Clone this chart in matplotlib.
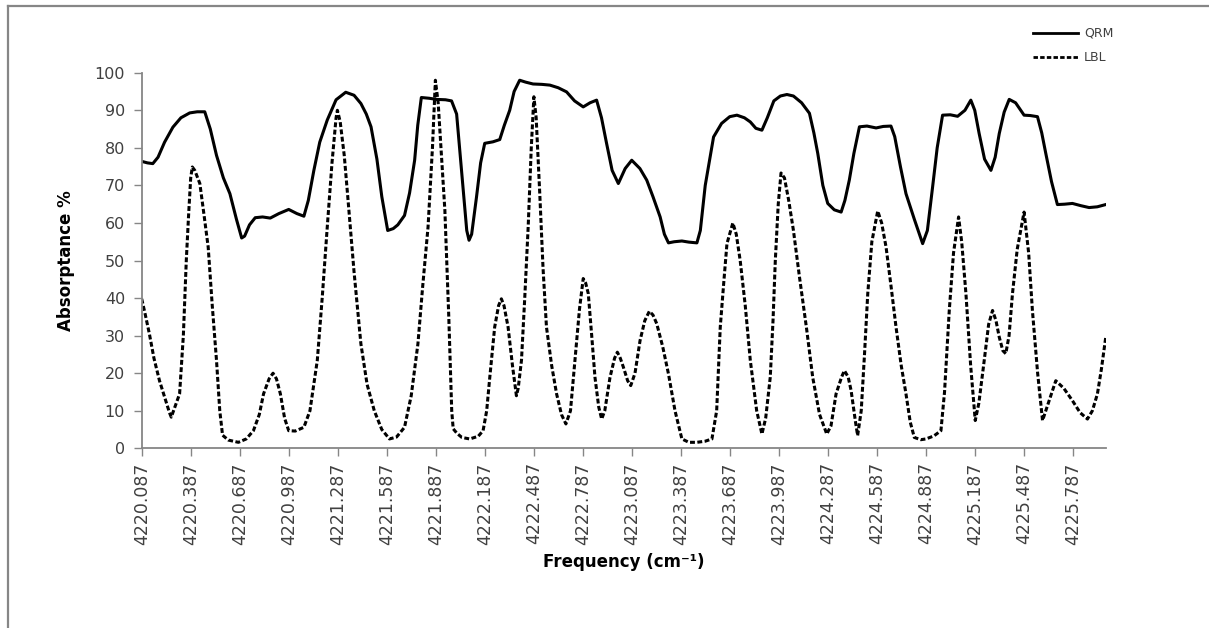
"""Absorptance of QRM vs LBL across 4220-4226 cm-1, Excel-style line chart."""

import matplotlib
matplotlib.use("Agg")
import matplotlib.pyplot as plt
from matplotlib.lines import Line2D

# --- data (frequency in cm-1, absorptance in %) ---
qrm_freq = [
    4220.087, 4220.122, 4220.155, 4220.187, 4220.227, 4220.278, 4220.327,
    4220.381, 4220.427, 4220.473, 4220.507, 4220.545, 4220.587, 4220.627,
    4220.667, 4220.699, 4220.717, 4220.747, 4220.782, 4220.827, 4220.874,
    4220.927, 4220.987, 4221.037, 4221.080, 4221.107, 4221.141, 4221.177,
    4221.223, 4221.277, 4221.336, 4221.387, 4221.429, 4221.462, 4221.491,
    4221.527, 4221.557, 4221.593, 4221.627, 4221.655, 4221.696, 4221.727,
    4221.758, 4221.777, 4221.799, 4221.847, 4221.891, 4221.947, 4221.984,
    4222.015, 4222.047, 4222.077, 4222.091, 4222.107, 4222.137, 4222.162,
    4222.187, 4222.237, 4222.279, 4222.307, 4222.340, 4222.367, 4222.401,
    4222.437, 4222.483, 4222.537, 4222.586, 4222.637, 4222.688, 4222.737,
    4222.790, 4222.832, 4222.872, 4222.902, 4222.933, 4222.967, 4223.005,
    4223.047, 4223.087, 4223.137, 4223.179, 4223.217, 4223.261, 4223.287,
    4223.312, 4223.347, 4223.394, 4223.437, 4223.486, 4223.507, 4223.537,
    4223.588, 4223.637, 4223.687, 4223.731, 4223.777, 4223.813, 4223.847,
    4223.884, 4223.917, 4223.957, 4223.997, 4224.037, 4224.077, 4224.127,
    4224.175, 4224.202, 4224.226, 4224.257, 4224.287, 4224.327, 4224.369,
    4224.392, 4224.419, 4224.447, 4224.481, 4224.527, 4224.583, 4224.627,
    4224.674, 4224.697, 4224.732, 4224.766, 4224.817, 4224.868, 4224.897,
    4224.929, 4224.957, 4224.990, 4225.037, 4225.082, 4225.127, 4225.163,
    4225.187, 4225.214, 4225.247, 4225.286, 4225.312, 4225.337, 4225.367,
    4225.398, 4225.437, 4225.489, 4225.527, 4225.571, 4225.597, 4225.622,
    4225.657, 4225.693, 4225.737, 4225.785, 4225.837, 4225.887, 4225.937,
    4225.989,
]
qrm_vals = [
    76.4, 76.0, 75.8, 77.5, 81.5, 85.5, 88.0, 89.3, 89.6, 89.6,
    85.0, 78.0, 72.0, 67.8, 61.0, 56.0, 56.5, 59.5, 61.4, 61.6,
    61.3, 62.5, 63.6, 62.5, 61.8, 66.0, 74.0, 81.5, 87.4, 92.8,
    94.8, 94.0, 91.8, 89.0, 85.6, 77.0, 67.0, 58.0, 58.5, 59.5,
    62.0, 68.0, 76.7, 86.0, 93.4, 93.2, 92.9, 92.8, 92.5, 89.0,
    73.0, 58.0, 55.4, 57.0, 67.0, 76.0, 81.2, 81.6, 82.2, 86.0,
    90.0, 95.0, 98.0, 97.5, 97.0, 96.9, 96.7, 96.0, 94.9, 92.5,
    90.9, 92.0, 92.7, 88.0, 81.2, 74.0, 70.5, 74.5, 76.7, 74.5,
    71.4, 67.0, 61.6, 57.0, 54.7, 55.0, 55.2, 54.9, 54.7, 58.0,
    70.0, 82.9, 86.5, 88.3, 88.7, 88.0, 86.9, 85.2, 84.7, 88.0,
    92.5, 93.8, 94.2, 93.8, 92.0, 89.2, 84.0, 78.5, 70.0, 65.2,
    63.5, 62.9, 66.0, 71.4, 78.5, 85.6, 85.8, 85.3, 85.7, 85.8,
    83.0, 75.0, 67.8, 61.0, 54.5, 58.0, 69.6, 80.0, 88.7, 88.8,
    88.4, 90.0, 92.7, 90.0, 83.8, 77.0, 74.0, 77.5, 83.8, 89.5,
    92.9, 92.0, 88.7, 88.6, 88.3, 84.0, 78.5, 71.0, 64.9, 65.0,
    65.2, 64.6, 64.1, 64.3, 64.9,
]

lbl_freq = [
    4220.087, 4220.107, 4220.134, 4220.162, 4220.196, 4220.232, 4220.257,
    4220.268, 4220.282, 4220.319, 4220.342, 4220.360, 4220.374, 4220.387,
    4220.397, 4220.412, 4220.443, 4220.469, 4220.494, 4220.519, 4220.545,
    4220.565, 4220.582, 4220.617, 4220.679, 4220.727, 4220.771, 4220.807,
    4220.833, 4220.867, 4220.891, 4220.912, 4220.936, 4220.962, 4220.987,
    4221.027, 4221.080, 4221.117, 4221.162, 4221.192, 4221.223, 4221.252,
    4221.277, 4221.285, 4221.302, 4221.327, 4221.347, 4221.387, 4221.429,
    4221.467, 4221.511, 4221.557, 4221.604, 4221.647, 4221.696, 4221.737,
    4221.778, 4221.807, 4221.840, 4221.867, 4221.885, 4221.902, 4221.922,
    4221.943, 4221.967, 4221.985, 4221.994, 4222.017, 4222.047, 4222.095,
    4222.147, 4222.177, 4222.199, 4222.218, 4222.248, 4222.272, 4222.289,
    4222.305, 4222.330, 4222.357, 4222.381, 4222.392, 4222.412, 4222.432,
    4222.453, 4222.472, 4222.488, 4222.502, 4222.524, 4222.544, 4222.565,
    4222.597, 4222.627, 4222.657, 4222.684, 4222.712, 4222.739, 4222.767,
    4222.790, 4222.805, 4222.821, 4222.842, 4222.862, 4222.885, 4222.903,
    4222.922, 4222.954, 4222.982, 4222.999, 4223.017, 4223.036, 4223.062,
    4223.081, 4223.107, 4223.138, 4223.167, 4223.195, 4223.217, 4223.240,
    4223.277, 4223.312, 4223.352, 4223.394, 4223.437, 4223.486, 4223.537,
    4223.578, 4223.607, 4223.629, 4223.652, 4223.670, 4223.706, 4223.727,
    4223.751, 4223.782, 4223.813, 4223.852, 4223.884, 4223.907, 4223.935,
    4223.952, 4223.966, 4223.984, 4224.001, 4224.022, 4224.048, 4224.077,
    4224.114, 4224.157, 4224.195, 4224.237, 4224.281, 4224.307, 4224.338,
    4224.372, 4224.389, 4224.412, 4224.430, 4224.457, 4224.470, 4224.492,
    4224.512, 4224.532, 4224.557, 4224.593, 4224.617, 4224.644, 4224.675,
    4224.705, 4224.737, 4224.766, 4224.792, 4224.817, 4224.857, 4224.888,
    4224.937, 4224.980, 4225.002, 4225.031, 4225.057, 4225.088, 4225.107,
    4225.133, 4225.162, 4225.190, 4225.212, 4225.245, 4225.272, 4225.296,
    4225.317, 4225.337, 4225.359, 4225.377, 4225.397, 4225.418, 4225.447,
    4225.489, 4225.517, 4225.540, 4225.572, 4225.602, 4225.637, 4225.683,
    4225.732, 4225.785, 4225.832, 4225.877, 4225.907, 4225.938, 4225.962,
    4225.989,
]
lbl_vals = [
    39.8, 36.0, 30.5, 24.0, 18.0, 13.0, 9.5, 8.3, 10.0, 14.5,
    30.0, 50.0, 62.0, 72.0, 74.9, 74.0, 70.5, 62.0, 53.6, 38.0,
    23.4, 10.0, 3.5, 2.2, 1.6, 2.5, 4.7, 9.0, 14.5, 18.5,
    20.0, 18.5, 14.5, 8.0, 4.7, 4.6, 5.6, 10.0, 23.4, 40.0,
    58.9, 76.0, 88.0, 90.0, 87.0, 78.0, 67.8, 47.0, 27.8, 17.0,
    10.0, 5.0, 2.5, 3.0, 5.6, 14.0, 27.8, 43.0, 58.9, 80.0,
    98.0, 92.0, 78.0, 63.4, 35.0, 10.0, 5.2, 4.0, 2.9, 2.5,
    3.2, 4.7, 10.0, 18.9, 32.3, 38.0, 39.8, 38.0, 32.3, 22.0,
    14.0, 16.0, 23.4, 40.0, 58.9, 80.0, 93.6, 88.0, 67.8, 48.0,
    32.3, 22.0, 14.5, 9.0, 6.5, 10.0, 23.4, 37.0, 45.2, 44.0,
    41.2, 30.0, 18.9, 11.0, 7.8, 10.0, 18.9, 24.0, 25.6, 24.0,
    21.6, 18.0, 16.7, 20.0, 28.7, 34.0, 36.5, 35.5, 33.2, 27.0,
    19.8, 10.0, 2.5, 1.6, 1.6, 1.9, 2.5, 10.0, 32.3, 45.0,
    54.5, 60.0, 57.0, 50.0, 38.0, 23.4, 10.0, 3.8, 8.0, 18.9,
    34.0, 50.0, 65.0, 73.3, 72.0, 66.0, 58.0, 45.6, 32.0, 18.9,
    9.0, 3.8, 6.0, 14.5, 19.0, 20.7, 19.0, 15.4, 7.0, 3.4,
    10.0, 25.0, 41.2, 55.0, 63.2, 60.0, 53.6, 43.0, 32.3, 22.0,
    14.5, 7.0, 2.9, 2.3, 2.5, 3.3, 4.7, 15.0, 36.7, 52.0,
    61.6, 55.0, 41.2, 22.0, 7.4, 12.0, 23.4, 33.0, 36.7, 34.0,
    29.6, 26.0, 25.2, 30.0, 41.2, 53.0, 62.9, 52.0, 36.7, 20.0,
    7.4, 12.0, 18.0, 16.0, 12.7, 9.5, 7.8, 10.0, 14.5, 21.0,
    29.6,
]

tick_labels = [
    "4220.087", "4220.387", "4220.687", "4220.987", "4221.287",
    "4221.587", "4221.887", "4222.187", "4222.487", "4222.787",
    "4223.087", "4223.387", "4223.687", "4223.987", "4224.287",
    "4224.587", "4224.887", "4225.187", "4225.487", "4225.787",
]
tick_freqs = [float(t) for t in tick_labels]
y_ticks = list(range(0, 101, 10))

AXIS_GREY = "#868686"
TEXT_GREY = "#404040"

fig = plt.figure(figsize=(12.09, 6.28), dpi=100)
ax = fig.add_axes([0.1172, 0.2861, 0.7974, 0.5981])

ax.plot(qrm_freq, qrm_vals, color="black", lw=2.2, solid_joinstyle="round")
ax.plot(lbl_freq, lbl_vals, color="black", lw=2.2,
        linestyle=(0, (1.6, 0.8)), dash_capstyle="butt")

ax.set_xlim(4220.087, 4225.989)
ax.set_ylim(0, 100)
ax.set_xticks(tick_freqs)
ax.set_xticklabels(tick_labels, rotation=90, fontsize=12.5, color=TEXT_GREY)
ax.set_yticks(y_ticks)
ax.set_yticklabels([str(v) for v in y_ticks], fontsize=11.5, color=TEXT_GREY)

for side in ("top", "right"):
    ax.spines[side].set_visible(False)
for side in ("left", "bottom"):
    ax.spines[side].set_color(AXIS_GREY)
    ax.spines[side].set_linewidth(1.3)
ax.tick_params(axis="both", colors=AXIS_GREY, labelcolor=TEXT_GREY,
               length=6, width=1.0)
ax.tick_params(axis="x", pad=4)
ax.tick_params(axis="y", pad=6)

ax.set_xlabel("Frequency (cm\u207b\u00b9)", fontsize=12, fontweight="bold",
              labelpad=6)
ax.set_ylabel("Absorptance %", fontsize=12, fontweight="bold", labelpad=14)

handles = [
    Line2D([], [], color="black", lw=2.0),
    Line2D([], [], color="black", lw=2.0, linestyle=(0, (1.6, 0.8))),
]
fig.legend(handles, ["QRM", "LBL"], loc="upper left",
           bbox_to_anchor=(0.845, 0.975), frameon=False, fontsize=9,
           handlelength=3.6, labelspacing=0.9, handletextpad=0.5,
           labelcolor=TEXT_GREY)

# chart-area border (only top and left edges are visible in the crop)
fig.add_artist(Line2D([0.0066, 1.0], [0.9904, 0.9904], color=AXIS_GREY,
                      lw=1.6, transform=fig.transFigure))
fig.add_artist(Line2D([0.0066, 0.0066], [0.0, 0.9904], color=AXIS_GREY,
                      lw=1.6, transform=fig.transFigure))

fig.savefig("out.png", dpi=100)
